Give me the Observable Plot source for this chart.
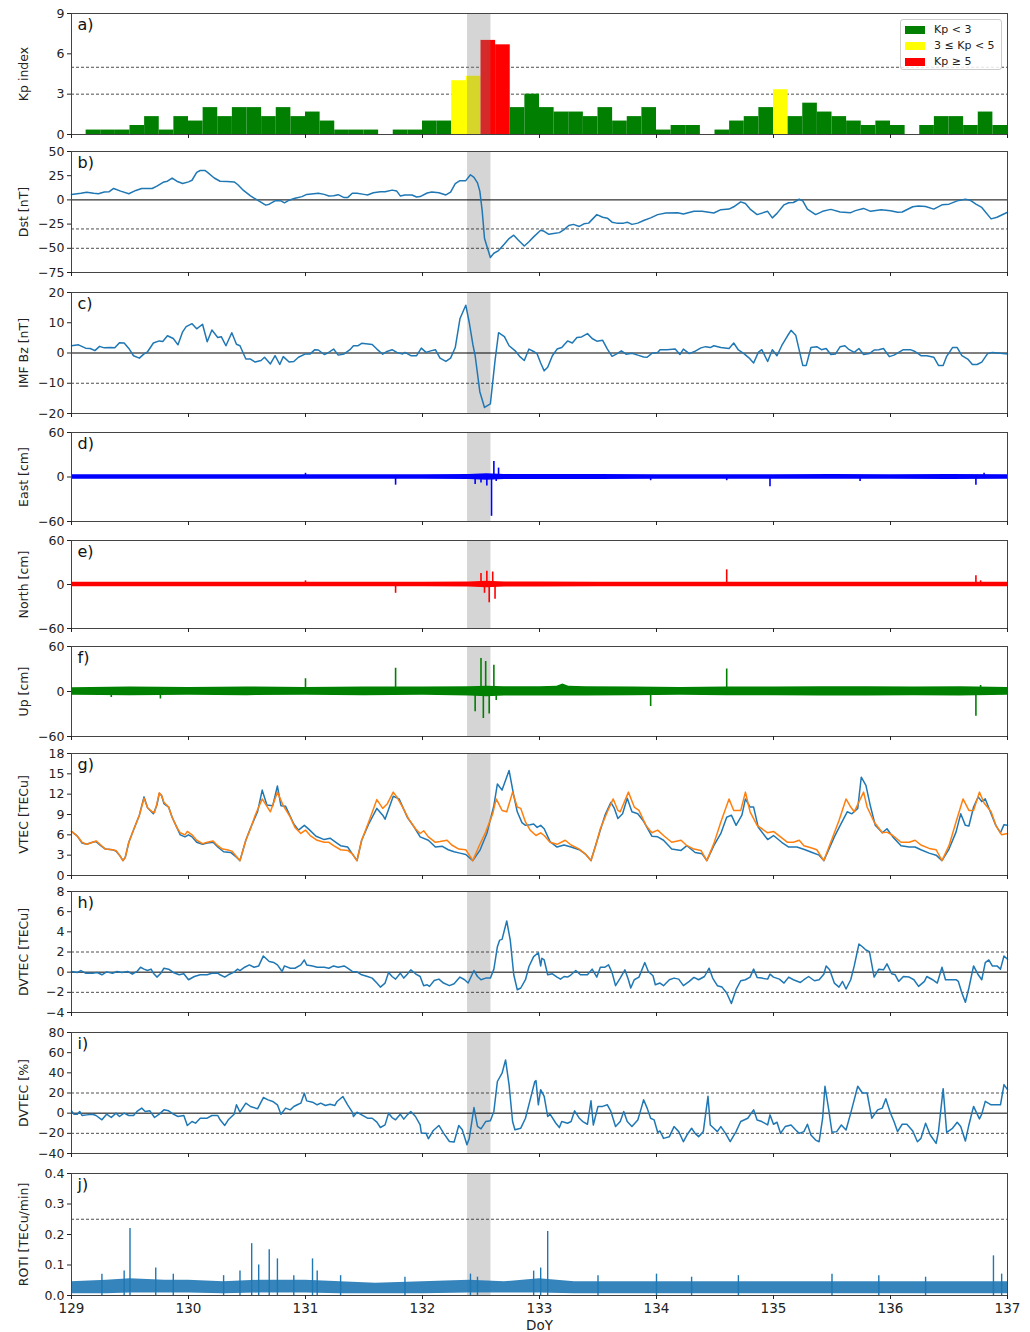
<!DOCTYPE html>
<html><head><meta charset="utf-8">
<script src="https://cdn.jsdelivr.net/npm/d3@7"></script>
<script src="https://cdn.jsdelivr.net/npm/@observablehq/plot@0.6"></script>
<style>
body{margin:0;background:#fff;font-family:"DejaVu Sans",sans-serif;}
#chart{position:relative;width:1030px;height:1332px;overflow:hidden;}
#chart svg{position:absolute;left:0;overflow:visible;}
.legend{position:absolute;left:900px;top:19px;width:102px;height:51px;border:1px solid #ccc;border-radius:3px;background:rgba(255,255,255,0.85);font-size:11px;color:#222;box-sizing:border-box;padding-top:2px;}
.legend div{height:16px;line-height:16px;white-space:nowrap;}
.legend span{display:inline-block;width:20px;height:8px;margin:0 9px 0 4px;vertical-align:middle;}
</style></head><body><div id="chart"></div>
<script>
// ---------------- DATA ----------------
const xTicks = [129,130,131,132,133,134,135,136,137];
const stormBand = [{x1:132.385, x2:132.585}];

// Kp (3-hourly, starting DoY 129.0)
const kpStart = 129;
const kpValues = [0,0.33,0.33,0.33,0.67,1.33,0.33,1.33,
  1.0,2.0,1.33,2.0,2.0,1.33,2.0,1.33,
  1.67,1.0,0.33,0.33,0.33,0,0.33,0.33,
  1.0,1.0,4.0,4.33,7.0,6.67,2.0,3.0,
  2.0,1.67,1.67,1.33,2.0,1.0,1.33,2.0,
  0.33,0.67,0.67,0,0.33,1.0,1.33,2.0,
  3.33,1.33,2.33,1.67,1.33,1.0,0.67,1.0,
  0.67,0,0.67,1.33,1.33,0.67,1.67,0.67];
const kpLegend = ["Kp < 3","3 ≤ Kp < 5","Kp ≥ 5"];

const dst = [[129.00,5.7],[129.08,6.8],[129.13,7.8],[129.19,6.8],[129.23,6.4],[129.28,8.1],[129.32,8.4],[129.36,11.8],[129.42,9.1],[129.49,6.4],[129.55,9.8],[129.60,11.8],[129.69,11.8],[129.73,14.2],[129.79,18.6],[129.82,19.3],[129.86,22.6],[129.90,19.3],[129.95,16.9],[130.00,18.6],[130.03,20.3],[130.07,28.4],[130.10,30.4],[130.14,30.4],[130.16,28.7],[130.22,22.6],[130.27,19.3],[130.33,18.9],[130.39,18.6],[130.42,15.9],[130.47,9.8],[130.53,4.1],[130.59,-0.3],[130.66,-5.4],[130.69,-4.4],[130.74,-1.0],[130.79,-1.0],[130.82,-3.0],[130.86,-0.3],[130.91,1.7],[130.97,3.4],[131.01,5.7],[131.07,6.4],[131.11,6.8],[131.16,5.7],[131.20,4.1],[131.24,4.4],[131.28,5.4],[131.33,2.4],[131.36,2.4],[131.40,6.8],[131.44,6.8],[131.50,5.7],[131.53,5.1],[131.58,7.4],[131.64,8.4],[131.68,8.4],[131.74,10.1],[131.78,9.1],[131.81,4.1],[131.85,5.1],[131.91,5.1],[131.95,3.0],[131.98,3.4],[132.04,7.1],[132.08,8.1],[132.14,7.4],[132.20,5.1],[132.24,8.1],[132.28,16.9],[132.32,19.9],[132.37,19.9],[132.41,26.0],[132.44,23.3],[132.47,17.6],[132.49,9.1],[132.51,-11.1],[132.53,-39.9],[132.58,-59.5],[132.61,-55.1],[132.65,-52.4],[132.70,-45.6],[132.74,-39.9],[132.78,-36.5],[132.82,-41.6],[132.87,-47.6],[132.91,-43.2],[132.95,-38.2],[133.01,-31.4],
[133.04,-32.4],[133.08,-35.5],[133.12,-34.8],[133.17,-33.8],[133.21,-30.7],[133.25,-26.4],[133.29,-25.3],[133.34,-27.4],[133.38,-24.7],[133.42,-24.0],[133.49,-15.2],[133.54,-17.9],[133.58,-18.9],[133.62,-23.0],[133.66,-24.0],[133.72,-24.0],[133.75,-23.0],[133.79,-25.3],[133.84,-24.0],[133.89,-21.3],[133.95,-18.6],[134.01,-15.2],[134.08,-13.5],[134.18,-13.2],[134.23,-14.5],[134.32,-11.8],[134.39,-11.8],[134.49,-13.5],[134.55,-10.1],[134.62,-9.5],[134.66,-7.1],[134.72,-2.0],[134.76,-3.7],[134.80,-9.5],[134.86,-15.2],[134.95,-11.8],[134.99,-18.6],[135.03,-13.9],[135.09,-5.1],[135.13,-3.0],[135.17,-2.7],[135.22,0.7],[135.25,-1.0],[135.29,-9.5],[135.36,-15.2],[135.42,-11.8],[135.49,-9.8],[135.57,-12.5],[135.66,-13.2],[135.70,-11.1],[135.77,-8.8],[135.83,-11.8],[135.92,-10.1],[136.00,-11.1],[136.06,-12.8],[136.10,-12.5],[136.19,-7.1],[136.24,-6.4],[136.30,-6.8],[136.37,-9.5],[136.44,-5.1],[136.50,-4.4],[136.57,-1.0],[136.64,0.7],[136.68,-0.3],[136.73,-4.4],[136.78,-7.8],[136.86,-19.6],[136.91,-17.9],[137.0,-12.8]];

const bz = [[129.00,2.4],[129.06,2.7],[129.12,1.6],[129.16,1.5],[129.20,0.8],[129.24,2.2],[129.28,1.7],[129.33,1.8],[129.37,1.7],[129.41,3.4],[129.45,3.3],[129.49,1.5],[129.53,-0.9],[129.58,-1.7],[129.62,-0.3],[129.65,0.4],[129.70,3.3],[129.75,4.0],[129.78,3.8],[129.82,5.7],[129.87,4.8],[129.91,2.7],[129.95,7.0],[129.98,8.7],[130.03,9.7],[130.07,8.0],[130.12,9.5],[130.16,3.7],[130.20,7.6],[130.25,5.1],[130.28,5.4],[130.32,2.4],[130.37,6.7],[130.41,2.9],[130.44,2.4],[130.49,-2.0],[130.53,-2.0],[130.57,-3.0],[130.62,-2.5],[130.65,-1.4],[130.70,-3.6],[130.74,-0.9],[130.78,-3.8],[130.81,-1.2],[130.86,-3.0],[130.90,-2.8],[130.94,-1.4],[131.00,-0.3],[131.04,-0.3],[131.08,1.1],[131.11,1.0],[131.16,-0.5],[131.19,0.0],[131.24,1.3],[131.28,-0.7],[131.33,-0.3],[131.38,1.1],[131.41,2.4],[131.45,2.4],[131.48,3.2],[131.57,2.8],[131.61,1.3],[131.66,-0.4],[131.69,0.4],[131.74,1.1],[131.78,0.2],[131.83,-0.3],[131.85,0.2],[131.90,-0.9],[131.95,-0.9],[131.99,1.6],[132.03,0.2],[132.07,0.7],[132.11,1.1],[132.15,-1.7],[132.20,-2.8],[132.24,-1.7],[132.28,1.8],[132.32,11.3],[132.37,15.8],[132.40,10.0],[132.43,2.9],[132.45,-0.9],[132.49,-12.8],[132.53,-18.0],[132.58,-16.8],[132.62,-2.5],[132.65,6.7],[132.70,5.4],[132.74,2.4],[132.79,0.8],[132.83,-1.1],[132.87,-2.5],[132.91,1.3],[132.95,0.5],[132.98,-0.3],[133.01,-3.3],
[133.04,-5.9],[133.07,-4.7],[133.11,-0.9],[133.15,1.3],[133.19,1.8],[133.24,4.0],[133.28,3.3],[133.32,5.1],[133.36,5.3],[133.41,6.4],[133.45,4.8],[133.49,3.9],[133.54,4.2],[133.58,1.3],[133.62,-1.1],[133.66,-0.3],[133.70,0.7],[133.74,-0.4],[133.79,-0.1],[133.84,-0.7],[133.89,-1.3],[133.92,-1.4],[133.96,-0.1],[134.01,0.2],[134.03,1.1],[134.09,1.1],[134.16,1.3],[134.20,-0.5],[134.23,1.3],[134.28,-0.2],[134.32,0.4],[134.38,1.7],[134.42,2.1],[134.46,1.8],[134.49,2.4],[134.55,1.8],[134.62,1.5],[134.66,3.3],[134.70,1.0],[134.75,-0.3],[134.79,-1.6],[134.83,-3.3],[134.87,0.2],[134.90,1.1],[134.95,-2.8],[134.99,1.1],[135.03,-0.9],[135.07,2.4],[135.12,5.7],[135.15,7.5],[135.19,5.9],[135.25,-4.1],[135.28,-4.1],[135.32,1.8],[135.37,2.1],[135.41,1.1],[135.45,1.5],[135.49,-0.5],[135.53,-0.3],[135.57,2.1],[135.61,2.4],[135.64,1.3],[135.69,0.2],[135.73,1.5],[135.77,-0.5],[135.82,-0.2],[135.86,1.0],[135.90,1.1],[135.94,1.5],[135.99,-1.2],[136.03,-0.7],[136.07,0.2],[136.11,1.1],[136.17,1.1],[136.21,0.5],[136.26,-0.9],[136.31,-0.9],[136.37,-1.4],[136.41,-4.1],[136.45,-4.1],[136.48,-1.1],[136.53,1.8],[136.57,1.8],[136.61,-0.9],[136.66,-2.0],[136.70,-3.8],[136.74,-3.8],[136.78,-3.0],[136.83,-0.2],[136.87,0.2],[136.94,-0.1],[137.0,-0.3]];

// GNSS position residuals: envelope of the dense noise [t, low, high] and isolated spikes [t, value]
const eastEnvelope = [[129,-3,3],[129.5,-3,3.2],[130,-3.2,3],[130.5,-3,3],[131,-3,3.2],[131.5,-3,3],[132,-3,3],[132.4,-3.5,3.5],[132.55,-4.5,4.5],[132.7,-3.5,3.5],[133,-3.5,3.5],[133.5,-3.5,3.5],[134,-3,3],[134.5,-3,3],[135,-3,3],[135.5,-3,3.5],[136,-3,3],[136.5,-3.5,3.5],[137,-3,3]];
const eastSpikes = [[131.0,5],[131.77,-11],[132.45,-10],[132.5,-8],[132.55,-12],[132.59,-53],[132.61,21],[132.63,-6],[132.65,12],[133.95,-5],[134.6,-5],[134.97,-13],[135.74,-6],[136.73,-11],[136.8,5]];
const northEnvelope = [[129,-3,3],[129.5,-3,3],[130,-3,3],[130.5,-3,3],[131,-3,3],[131.5,-3,3],[132,-3,3],[132.4,-3.5,3.5],[132.55,-4.5,4.5],[132.7,-3.5,3.5],[133,-3.5,3.5],[133.5,-3,3],[134,-3,3],[134.5,-3,3],[135,-3,3],[135.5,-3,3],[136,-3,3],[136.5,-3,3],[137,-3,3]];
const northSpikes = [[131.0,5],[131.77,-12],[132.50,15],[132.53,-12],[132.55,18],[132.57,-25],[132.60,17],[132.62,-20],[134.6,20],[136.73,12],[136.77,5]];
const upEnvelope = [[129,-5,5],[129.5,-5.5,6],[130,-5,5.5],[130.5,-5.5,6],[131,-5,5.5],[131.5,-5.5,6],[132,-5,6],[132.4,-6,6.5],[132.55,-7,7],[132.7,-6,6.5],[133.0,-6,6.5],[133.15,-6,7],[133.2,-6,10],[133.25,-6,7],[133.4,-6,6.5],[133.8,-5.5,6],[134.2,-5,5.5],[134.6,-5.5,6],[135.0,-5.5,6],[135.4,-6,6.5],[135.8,-6,6.5],[136.2,-5.5,6],[136.6,-6,6.5],[137,-5,5.5]];
const upSpikes = [[129.34,-8],[129.76,-10],[131.0,17],[131.77,31],[132.45,-27],[132.5,44],[132.52,-36],[132.54,40],[132.57,-30],[132.61,35],[132.63,-12],[133.95,-20],[134.6,30],[136.73,-33],[136.77,8]];

const vtecObs = [[129.00,6.5],[129.05,5.8],[129.09,4.8],[129.13,4.6],[129.18,4.9],[129.21,5.0],[129.25,4.4],[129.29,3.9],[129.35,3.8],[129.38,3.6],[129.41,3.0],[129.44,2.2],[129.46,2.7],[129.49,4.9],[129.53,6.7],[129.58,8.9],[129.62,11.6],[129.65,10.0],[129.70,9.1],[129.73,10.4],[129.75,12.1],[129.77,11.8],[129.79,10.6],[129.83,10.1],[129.86,8.6],[129.90,7.1],[129.93,6.0],[129.97,5.7],[130.00,6.0],[130.03,5.7],[130.07,4.9],[130.12,4.6],[130.16,4.8],[130.21,4.9],[130.25,4.2],[130.30,3.5],[130.36,3.4],[130.41,2.7],[130.44,2.2],[130.49,5.2],[130.53,7.0],[130.59,9.4],[130.63,12.6],[130.67,10.4],[130.72,10.3],[130.76,13.2],[130.79,10.3],[130.83,10.2],[130.90,7.6],[130.94,6.7],[130.99,7.4],[131.03,6.8],[131.09,5.8],[131.16,5.3],[131.21,5.5],[131.26,4.9],[131.30,4.4],[131.36,4.2],[131.40,3.2],[131.44,2.2],[131.48,5.2],[131.54,7.6],[131.61,9.9],[131.66,8.9],[131.68,8.3],[131.75,11.7],[131.80,11.3],[131.87,8.6],[131.93,7.1],[131.98,5.7],[132.05,5.2],[132.11,4.2],[132.17,4.3],[132.22,3.8],[132.27,3.5],[132.32,3.3],[132.37,3.1],[132.43,2.2],[132.49,3.7],[132.55,6.2],[132.61,10.3],[132.64,13.5],[132.68,12.6],[132.74,15.5],[132.78,11.8],[132.81,9.4],[132.85,7.8],[132.88,7.4],[132.92,7.5],[132.95,7.6],[132.98,7.1],[133.01,7.4],
[133.04,6.9],[133.09,5.0],[133.15,4.2],[133.21,4.5],[133.27,4.2],[133.34,3.8],[133.39,3.2],[133.44,2.2],[133.52,6.7],[133.56,8.9],[133.61,10.8],[133.64,9.9],[133.67,8.4],[133.71,9.1],[133.75,11.4],[133.79,9.4],[133.84,9.1],[133.89,8.0],[133.96,5.8],[134.01,5.7],[134.06,5.2],[134.13,3.9],[134.21,3.7],[134.26,4.4],[134.33,3.4],[134.39,3.2],[134.43,2.2],[134.49,4.4],[134.55,6.2],[134.60,8.6],[134.64,8.9],[134.68,7.4],[134.73,8.9],[134.76,11.3],[134.80,10.1],[134.83,10.1],[134.87,7.1],[134.95,5.3],[135.00,5.9],[135.07,4.9],[135.13,4.2],[135.20,4.2],[135.27,3.8],[135.33,3.4],[135.39,3.0],[135.43,2.2],[135.52,5.7],[135.57,7.4],[135.63,9.4],[135.67,9.1],[135.72,9.9],[135.75,14.5],[135.79,13.3],[135.83,10.1],[135.87,7.4],[135.93,6.3],[135.97,6.9],[136.02,5.7],[136.09,4.4],[136.16,4.2],[136.21,4.2],[136.26,3.8],[136.33,3.3],[136.39,3.0],[136.44,2.2],[136.50,3.9],[136.56,6.4],[136.60,9.1],[136.64,7.4],[136.67,7.3],[136.71,10.1],[136.75,11.6],[136.78,10.9],[136.81,11.3],[136.86,9.1],[136.90,7.4],[136.94,6.3],[136.97,7.5],[137.0,7.4]];

const vtecRef = [[129.00,6.5],[129.05,5.8],[129.09,4.9],[129.13,4.6],[129.18,4.9],[129.21,5.1],[129.25,4.5],[129.29,3.9],[129.35,3.8],[129.38,3.7],[129.41,3.0],[129.44,2.2],[129.46,2.7],[129.49,4.9],[129.53,6.7],[129.58,8.9],[129.62,11.4],[129.65,10.0],[129.69,9.4],[129.71,9.3],[129.73,10.6],[129.75,12.2],[129.77,11.8],[129.79,10.8],[129.83,10.1],[129.86,8.6],[129.90,7.1],[129.93,6.3],[129.97,6.0],[129.99,6.5],[130.03,6.0],[130.07,5.2],[130.12,4.7],[130.16,4.9],[130.21,5.1],[130.25,4.4],[130.29,3.9],[130.33,3.8],[130.37,3.6],[130.41,2.8],[130.44,2.2],[130.49,5.2],[130.53,6.9],[130.57,8.9],[130.63,11.3],[130.70,9.4],[130.76,12.3],[130.81,10.3],[130.87,8.6],[130.91,7.1],[130.96,6.2],[131.00,6.7],[131.04,5.9],[131.10,5.2],[131.16,4.9],[131.20,4.9],[131.24,4.4],[131.30,3.8],[131.36,3.7],[131.40,3.2],[131.44,2.2],[131.48,5.2],[131.54,7.9],[131.61,11.2],[131.66,9.9],[131.70,10.6],[131.75,12.3],[131.78,11.6],[131.83,10.1],[131.88,8.4],[131.94,6.9],[131.98,6.2],[132.01,6.6],[132.05,5.7],[132.11,4.9],[132.15,5.0],[132.21,5.2],[132.25,4.5],[132.31,3.9],[132.37,3.8],[132.43,2.2],[132.48,4.2],[132.54,6.4],[132.60,9.1],[132.63,11.3],[132.68,9.6],[132.72,9.4],[132.77,12.3],[132.81,10.1],[132.84,9.9],[132.88,7.9],[132.92,6.7],[132.97,5.9],[133.01,6.3],
[133.04,5.9],[133.09,4.9],[133.15,4.6],[133.22,5.2],[133.27,4.5],[133.34,3.9],[133.39,3.2],[133.44,2.2],[133.48,4.4],[133.52,6.9],[133.58,9.4],[133.63,11.3],[133.67,9.6],[133.69,9.4],[133.76,12.3],[133.81,10.1],[133.85,9.6],[133.91,7.4],[133.96,6.3],[134.01,6.7],[134.06,5.9],[134.13,4.9],[134.21,5.2],[134.26,4.4],[134.32,3.9],[134.38,3.7],[134.43,2.2],[134.49,4.7],[134.55,7.9],[134.62,11.3],[134.66,9.6],[134.72,9.6],[134.76,12.3],[134.80,9.4],[134.86,7.4],[134.95,6.3],[135.00,6.5],[135.06,5.7],[135.12,4.9],[135.17,4.9],[135.22,5.2],[135.26,4.4],[135.32,4.1],[135.37,3.8],[135.43,2.2],[135.50,5.4],[135.56,8.1],[135.62,11.3],[135.66,10.1],[135.69,9.4],[135.77,12.3],[135.80,10.1],[135.86,7.9],[135.93,6.3],[135.97,6.4],[136.02,5.9],[136.09,4.9],[136.16,4.9],[136.21,5.2],[136.26,4.5],[136.33,4.0],[136.39,3.8],[136.44,2.2],[136.50,4.4],[136.56,7.9],[136.62,11.3],[136.67,9.6],[136.71,9.6],[136.76,12.3],[136.80,10.7],[136.86,9.4],[136.90,7.4],[136.95,6.0],[137.0,6.2]];

const dvtecAbs = [[129.00,0.07],[129.05,-0.03],[129.08,0.16],[129.12,-0.1],[129.18,-0.1],[129.22,-0.03],[129.26,-0.26],[129.30,0.03],[129.35,-0.1],[129.39,0.07],[129.43,-0.03],[129.48,0.07],[129.52,-0.2],[129.56,0.07],[129.59,0.49],[129.62,0.3],[129.65,0.16],[129.68,0.3],[129.70,-0.1],[129.73,-0.49],[129.76,-0.16],[129.79,0.39],[129.83,0.3],[129.87,-0.03],[129.92,-0.26],[129.96,-0.16],[130.00,-0.75],[130.05,-0.43],[130.10,-0.26],[130.16,-0.26],[130.20,-0.1],[130.25,-0.1],[130.27,-0.26],[130.31,-0.49],[130.34,-0.26],[130.39,0],[130.42,0.3],[130.44,0.16],[130.48,0.49],[130.52,0.72],[130.56,0.49],[130.60,0.62],[130.64,1.61],[130.69,1.05],[130.73,0.95],[130.76,0.72],[130.80,0.07],[130.82,0.62],[130.87,0.39],[130.91,0.39],[130.96,0.72],[130.99,1.21],[131.01,0.72],[131.06,0.62],[131.10,0.49],[131.16,0.49],[131.20,0.39],[131.24,0.62],[131.28,0.49],[131.33,0.62],[131.36,0.39],[131.40,0.07],[131.44,0.03],[131.48,-0.26],[131.53,-0.43],[131.57,-0.59],[131.61,-1.08],[131.64,-1.48],[131.68,-1.08],[131.71,-0.03],[131.74,-0.43],[131.77,-0.69],[131.81,-0.1],[131.84,-0.59],[131.87,-0.2],[131.90,0.23],[131.94,-0.16],[131.98,-0.43],[132.01,-1.34],[132.04,-1.25],[132.06,-1.41],[132.10,-0.82],[132.14,-0.69],[132.18,-1.08],[132.23,-1.34],[132.27,-1.15],[132.32,-0.49],[132.36,-0.75],[132.39,-1.08],[132.44,0.16],[132.47,-0.43],[132.50,-0.75],[132.54,-0.59],[132.58,-0.59],[132.61,0.3],[132.64,2.52],[132.66,3.18],[132.68,3.25],[132.72,5.08],[132.75,3.18],[132.78,-0.26],[132.81,-1.74],[132.84,-1.57],[132.88,-0.75],[132.91,0.56],[132.95,1.54],[132.99,1.93],[133.01,0.62],
[133.02,1.38],[133.04,1.21],[133.07,-0.26],[133.11,-0.16],[133.15,-0.49],[133.18,-0.69],[133.21,-0.43],[133.24,-0.49],[133.27,-0.26],[133.31,0.16],[133.35,-0.26],[133.41,-0.26],[133.45,0.3],[133.49,-0.49],[133.52,0.49],[133.56,0.49],[133.59,0.72],[133.62,-0.03],[133.65,-1.34],[133.69,-0.59],[133.73,0.23],[133.76,-0.75],[133.78,-1.57],[133.81,-0.75],[133.85,-0.49],[133.90,0.95],[133.93,0.07],[133.97,-0.36],[133.99,-1.25],[134.03,-1.08],[134.06,-1.34],[134.11,-0.75],[134.15,-0.59],[134.19,-0.69],[134.23,-1.34],[134.28,-0.92],[134.32,-0.52],[134.36,-0.75],[134.41,-0.43],[134.45,0.39],[134.48,-0.59],[134.52,-1.34],[134.56,-1.48],[134.60,-2.07],[134.64,-3.11],[134.68,-1.74],[134.72,-0.85],[134.76,-0.75],[134.80,-0.49],[134.83,0.3],[134.86,-0.52],[134.90,-0.59],[134.95,-0.69],[134.97,-0.2],[135.00,-0.49],[135.05,-0.69],[135.09,-1.08],[135.13,-0.49],[135.17,-0.75],[135.23,-1.02],[135.26,-0.75],[135.30,-0.43],[135.35,-0.85],[135.39,-0.75],[135.43,-0.2],[135.45,0.62],[135.48,0.23],[135.52,-1.08],[135.56,-1.48],[135.59,-0.92],[135.62,-1.67],[135.66,-0.75],[135.69,0.62],[135.73,2.79],[135.76,2.52],[135.79,2.2],[135.82,2.03],[135.86,-0.49],[135.90,0.3],[135.94,0.23],[135.97,0.82],[136.01,-0.16],[136.04,-0.26],[136.07,-0.92],[136.11,-0.43],[136.16,-0.49],[136.20,-0.75],[136.24,-1.41],[136.29,-0.92],[136.31,-0.43],[136.36,-0.75],[136.40,-1.08],[136.44,0.49],[136.47,-0.75],[136.51,-0.75],[136.56,-0.75],[136.58,-0.92],[136.61,-2.07],[136.64,-2.98],[136.67,-1.57],[136.71,0.62],[136.75,-0.26],[136.78,-0.75],[136.81,0.95],[136.84,1.21],[136.87,0.62],[136.91,0.62],[136.94,0.3],[136.97,1.61],[137.0,1.28]];

const dvtecPct = [[129.00,2.3],[129.02,-1.0],[129.05,-1.0],[129.07,1.7],[129.09,-2.3],[129.13,-1.7],[129.18,-1.0],[129.21,-2.3],[129.26,-6.6],[129.30,-1.0],[129.34,-4.3],[129.38,0],[129.41,-3.3],[129.45,0],[129.49,-2.3],[129.53,-2.3],[129.56,1.7],[129.60,5.0],[129.63,1.7],[129.67,2.3],[129.71,-4.3],[129.75,-1.0],[129.79,3.3],[129.83,2.3],[129.87,-1.0],[129.91,-3.3],[129.96,-2.3],[129.99,-12.2],[130.03,-8.3],[130.06,-9.9],[130.10,-5.0],[130.16,-5.0],[130.20,-2.3],[130.25,-2.3],[130.27,-6.6],[130.31,-12.2],[130.34,-6.6],[130.39,-1.0],[130.41,8.3],[130.44,1.0],[130.49,9.9],[130.53,6.6],[130.59,4.3],[130.64,15.5],[130.68,13.2],[130.72,11.6],[130.76,8.3],[130.79,-1.0],[130.83,5.0],[130.87,3.3],[130.90,6.6],[130.93,8.3],[130.96,9.9],[130.99,19.8],[131.01,12.2],[131.06,10.9],[131.10,8.3],[131.13,9.9],[131.17,7.6],[131.21,8.9],[131.25,7.6],[131.27,11.6],[131.32,16.5],[131.36,8.3],[131.40,1.0],[131.41,-3.3],[131.44,1.0],[131.48,-1.7],[131.53,-5.0],[131.57,-5.0],[131.61,-8.9],[131.64,-14.2],[131.68,-11.6],[131.71,0],[131.74,-4.3],[131.77,-6.6],[131.81,-1.0],[131.84,-5.9],[131.87,-1.7],[131.90,1.7],[131.94,-3.3],[131.98,-11.6],[131.99,-19.8],[132.03,-19.8],[132.05,-25.4],[132.09,-17.5],[132.14,-12.2],[132.18,-19.8],[132.23,-28.1],[132.27,-28.7],[132.31,-12.2],[132.34,-16.5],[132.38,-31.4],[132.40,-24.8],[132.44,5.6],[132.47,-13.2],[132.50,-15.5],[132.54,-8.3],[132.58,-7.6],[132.61,1.7],[132.64,31.4],[132.68,39.6],[132.71,52.8],[132.74,28.1],[132.77,-8.3],[132.79,-16.5],[132.84,-14.9],[132.88,-5.0],[132.92,13.2],[132.96,31.4],[132.97,32.3],[132.99,8.3],
[133.01,23.3],[133.04,16.7],[133.07,-3.3],[133.09,-1.0],[133.14,-10.0],[133.17,-14.3],[133.19,-8.3],[133.24,-10.0],[133.27,-8.3],[133.30,2.3],[133.34,-5.0],[133.37,-8.3],[133.41,-11.0],[133.44,12.3],[133.46,-11.7],[133.50,6.7],[133.54,6.7],[133.58,8.3],[133.61,1.7],[133.65,-13.3],[133.69,-8.3],[133.72,1.7],[133.75,-8.3],[133.79,-13.3],[133.84,-6.7],[133.87,5.0],[133.89,13.3],[133.92,5.0],[133.95,-5.0],[133.98,-6.7],[134.01,-19.0],[134.03,-17.7],[134.06,-25.0],[134.11,-23.3],[134.15,-13.3],[134.19,-18.3],[134.23,-28.3],[134.26,-21.7],[134.30,-15.0],[134.33,-20.0],[134.36,-23.3],[134.40,-18.3],[134.44,16.7],[134.46,-11.7],[134.49,-15.0],[134.52,-18.3],[134.55,-13.3],[134.59,-20.0],[134.63,-28.3],[134.68,-18.3],[134.72,-8.3],[134.78,-5.0],[134.83,3.3],[134.86,-6.7],[134.90,-8.3],[134.95,-11.7],[134.97,-1.7],[135.00,-11.0],[135.03,-9.0],[135.06,-20.0],[135.10,-13.3],[135.15,-11.7],[135.19,-16.7],[135.22,-20.0],[135.26,-18.3],[135.29,-11.0],[135.32,-21.7],[135.36,-26.7],[135.39,-28.3],[135.42,-5.0],[135.44,26.7],[135.47,5.0],[135.50,-19.0],[135.54,-18.3],[135.58,-11.7],[135.62,-16.7],[135.66,0],[135.72,26.7],[135.76,20.0],[135.80,20.0],[135.84,-5.0],[135.89,3.3],[135.93,5.0],[135.96,14.3],[136.00,0],[136.03,-8.3],[136.06,-18.3],[136.10,-11.0],[136.14,-11.0],[136.19,-17.7],[136.23,-28.3],[136.26,-25.0],[136.30,-10.0],[136.34,-21.7],[136.39,-30.0],[136.41,-18.3],[136.45,24.3],[136.48,-19.0],[136.53,-15.0],[136.57,-9.0],[136.60,-13.3],[136.64,-27.7],[136.67,-11.7],[136.71,6.7],[136.76,-5.7],[136.78,-1.0],[136.81,11.7],[136.86,8.3],[136.90,8.3],[136.94,8.3],[136.97,28.3],[137.0,23.3]];

// ROTI: envelope of the dense 30-s series [t, low, high] and isolated peaks [t, value]
const rotiEnvelope = [[129,0.006,0.045],[129.3,0.006,0.05],[129.5,0.008,0.055],[129.8,0.008,0.05],[130,0.008,0.05],[130.3,0.006,0.045],[130.6,0.008,0.05],[131,0.008,0.05],[131.3,0.006,0.045],[131.6,0.006,0.04],[132,0.006,0.045],[132.4,0.008,0.05],[132.7,0.008,0.045],[133,0.008,0.055],[133.3,0.006,0.045],[133.7,0.006,0.045],[134,0.006,0.045],[134.5,0.006,0.045],[135,0.006,0.045],[135.5,0.006,0.045],[136,0.006,0.045],[136.5,0.006,0.045],[137,0.006,0.045]];
const rotiPeaks = [[129.26,0.07],[129.45,0.08],[129.5,0.22],[129.72,0.09],[129.87,0.07],[130.3,0.065],[130.44,0.08],[130.54,0.17],[130.6,0.1],[130.69,0.15],[130.76,0.12],[130.9,0.065],[131.06,0.12],[131.1,0.08],[131.3,0.065],[131.85,0.06],[132.41,0.07],[132.47,0.06],[132.95,0.08],[133.01,0.09],[133.07,0.21],[133.5,0.065],[134.0,0.07],[134.3,0.06],[134.7,0.065],[135.5,0.07],[135.9,0.065],[136.3,0.06],[136.88,0.13],[136.95,0.07]];

// ---------------- DRAWING ----------------
const chart = document.getElementById("chart");
const BLUE = "#1f77b4", ORANGE = "#ff7f0e";
const FONT = "DejaVu Sans, sans-serif";

const dashed = vals => Plot.ruleY(vals, {stroke: "#222", strokeWidth: 0.8, strokeDasharray: "3,2"});
const zeroLine = () => Plot.ruleY([0], {stroke: "#000", strokeWidth: 1});
const line = (arr, color, w = 1.5) => Plot.line(arr, {x: d => d[0], y: d => d[1], stroke: color, strokeWidth: w});
const envelope = (arr, color, op = 1) => Plot.areaY(arr, {x: d => d[0], y1: d => d[1], y2: d => d[2], fill: color, fillOpacity: op});
const spikes = (arr, color, w = 1.6) => Plot.ruleX(arr, {x: d => d[0], y1: d => 0, y2: d => d[1], stroke: color, strokeWidth: w});

function panel({top, h, domain, ticks, fmt, label, letter, marks, last = false, bandOnTop = false}) {
  const mt = 10, mb = last ? 38 : 10;
  const bandMark = Plot.rect(stormBand, {x1: "x1", x2: "x2", y1: () => domain[0], y2: () => domain[1], fill: "#808080", fillOpacity: 0.33});
  const p = Plot.plot({
    width: 1030, height: h + mt + mb,
    marginLeft: 71, marginRight: 23, marginTop: mt, marginBottom: mb,
    style: {fontFamily: FONT, fontSize: "12.5px", background: "transparent", overflow: "visible", color: "#222"},
    x: {domain: [129, 137]},
    y: {domain},
    marks: [
      bandOnTop ? null : bandMark,
      ...marks,
      bandOnTop ? bandMark : null,
      Plot.frame({stroke: "#444", strokeWidth: 1}),
      Plot.axisY({ticks, tickFormat: fmt, tickSize: 4, tickPadding: 3, label, labelAnchor: "center", labelArrow: "none", labelOffset: 52, fontSize: 12.5}),
      Plot.axisX({ticks: xTicks, tickSize: 4, tickPadding: 4, tickFormat: last ? (d => String(d)) : (() => ""),
        label: last ? "DoY" : null, labelAnchor: "center", labelArrow: "none", labelOffset: 34, fontSize: 13.5}),
      Plot.text([letter], {text: d => d, frameAnchor: "top-left", dx: 6, dy: 5, fontSize: 16, textAnchor: "start", lineAnchor: "top", fill: "#111"})
    ].filter(Boolean)
  });
  p.style.top = (top - mt) + "px";
  chart.append(p);
}

// a) Kp
const kpData = kpValues.map((v, i) => ({t1: kpStart + i * 0.125, t2: kpStart + (i + 1) * 0.125, kp: v}));
const kpColor = v => v >= 5 ? "#ff0000" : v > 3 ? "#ffff00" : "#007f00";
panel({top: 13, h: 121, domain: [0, 9], ticks: [0, 3, 6, 9], label: "Kp index", letter: "a)", bandOnTop: true,
  marks: [
    dashed([3, 5]),
    Plot.rectY(kpData.filter(d => d.kp > 0), {x1: "t1", x2: "t2", y1: () => 0, y2: "kp", fill: d => kpColor(d.kp), insetLeft: 0, insetRight: 0})
  ]});

// b) Dst
panel({top: 151, h: 121, domain: [-75, 50], ticks: [-75, -50, -25, 0, 25, 50], label: "Dst [nT]", letter: "b)",
  marks: [zeroLine(), dashed([-30, -50]), line(dst, BLUE)]});

// c) IMF Bz
panel({top: 292, h: 121, domain: [-20, 20], ticks: [-20, -10, 0, 10, 20], label: "IMF Bz [nT]", letter: "c)",
  marks: [zeroLine(), dashed([-10]), line(bz, BLUE)]});

// d) East
panel({top: 432, h: 89, domain: [-60, 60], ticks: [-60, 0, 60], label: "East [cm]", letter: "d)",
  marks: [envelope(eastEnvelope, "#0000ff"), spikes(eastSpikes, "#0000ff")]});

// e) North
panel({top: 540, h: 88, domain: [-60, 60], ticks: [-60, 0, 60], label: "North [cm]", letter: "e)",
  marks: [envelope(northEnvelope, "#ff0000"), spikes(northSpikes, "#ff0000")]});

// f) Up
panel({top: 646, h: 90, domain: [-60, 60], ticks: [-60, 0, 60], label: "Up [cm]", letter: "f)",
  marks: [envelope(upEnvelope, "#008000"), spikes(upSpikes, "#008000")]});

// g) VTEC
panel({top: 753, h: 122, domain: [0, 18], ticks: [0, 3, 6, 9, 12, 15, 18], label: "VTEC [TECu]", letter: "g)",
  marks: [line(vtecObs, BLUE), line(vtecRef, ORANGE)]});

// h) DVTEC [TECu]
panel({top: 891, h: 121, domain: [-4, 8], ticks: [-4, -2, 0, 2, 4, 6, 8], label: "DVTEC [TECu]", letter: "h)",
  marks: [zeroLine(), dashed([-2, 2]), line(dvtecAbs, BLUE)]});

// i) DVTEC [%]
panel({top: 1032, h: 121, domain: [-40, 80], ticks: [-40, -20, 0, 20, 40, 60, 80], label: "DVTEC [%]", letter: "i)",
  marks: [zeroLine(), dashed([-20, 20]), line(dvtecPct, BLUE)]});

// j) ROTI
panel({top: 1173, h: 122, domain: [0, 0.4], ticks: [0, 0.1, 0.2, 0.3, 0.4], fmt: d3.format(".1f"), label: "ROTI [TECu/min]", letter: "j)", last: true,
  marks: [dashed([0.25]), envelope(rotiEnvelope, BLUE, 0.9), spikes(rotiPeaks, BLUE, 1.4)]});

// legend for panel a
const colors = ["#007f00", "#ffff00", "#ff0000"];
const leg = document.createElement("div");
leg.className = "legend";
leg.innerHTML = kpLegend.map((t, i) => `<div><span style="background:${colors[i]}"></span>${t}</div>`).join("");
chart.append(leg);
</script>
</body></html>
